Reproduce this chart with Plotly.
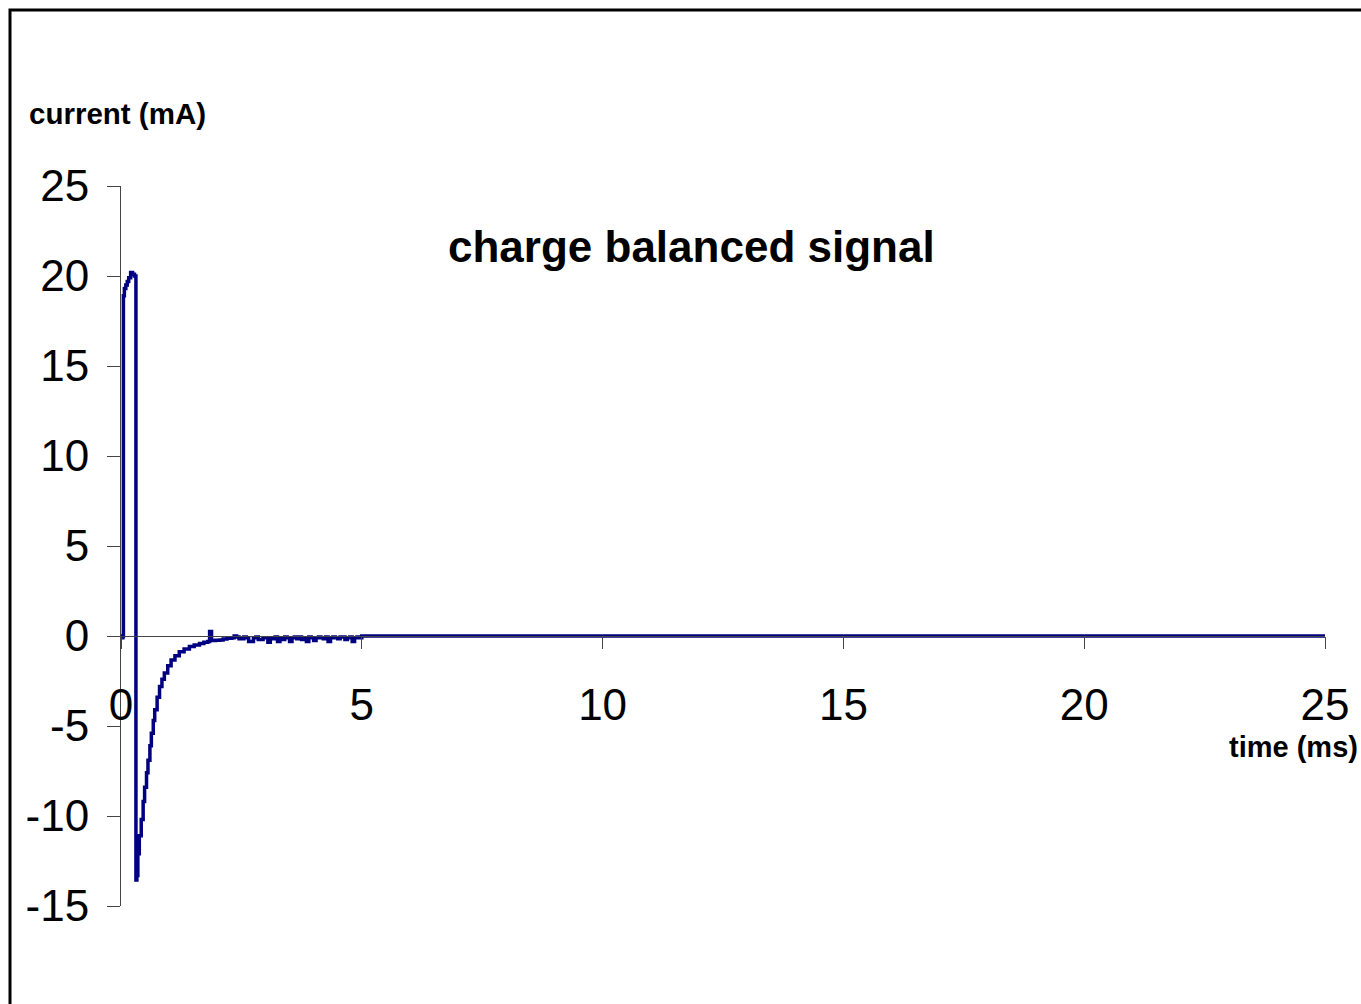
import plotly.graph_objects as go

# time (ms) and current (mA)
t_ms = [0.0, 0.03, 0.04, 0.05, 0.07, 0.10, 0.13, 0.16, 0.20, 0.24, 0.28, 0.30,
        0.31, 0.33, 0.35, 0.38, 0.42, 0.46, 0.49, 0.53, 0.56, 0.60, 0.63, 0.67, 0.70,
        0.75, 0.80, 0.85, 0.90, 0.97, 1.04, 1.12, 1.21, 1.31, 1.42, 1.52, 1.63,
        1.72, 1.80, 1.84, 1.88, 1.96, 2.05, 2.12, 2.20,
        2.3, 2.35, 2.4, 2.45, 2.5, 2.55, 2.6, 2.65, 2.7, 2.75, 2.8, 2.85, 2.9, 2.95,
        3.0, 3.05, 3.1, 3.15, 3.2, 3.25, 3.3, 3.35, 3.4, 3.45, 3.5, 3.55, 3.6, 3.65,
        3.7, 3.75, 3.8, 3.85, 3.9, 3.95, 4.0, 4.05, 4.1, 4.15, 4.2, 4.25, 4.3, 4.35,
        4.4, 4.45, 4.5, 4.55, 4.6, 4.65, 4.7, 4.75, 4.8, 4.85, 4.9, 4.95,
        5.0, 25.0]
current_mA = [0.0, -0.1, 0.0, 18.9, 19.3, 19.5, 19.7, 19.9, 20.2, 20.1, 20.0, 20.0,
              -13.55, -13.3, -12.1, -11.1, -10.2, -9.2, -8.4, -7.6, -6.9, -6.1, -5.4, -4.7, -4.1,
              -3.4, -2.8, -2.4, -2.06, -1.65, -1.33, -1.1, -0.87, -0.72, -0.59, -0.5, -0.41,
              -0.35, -0.3, 0.25, -0.25, -0.24, -0.22, -0.16, -0.13,
              -0.1, 0.0, -0.05, -0.15, -0.15, -0.05, -0.1, -0.3, -0.3, -0.1, -0.05, -0.2, -0.2, -0.1,
              -0.1, -0.35, -0.1, -0.15, -0.05, -0.3, -0.1, -0.2, -0.05, -0.1, -0.3, -0.1, -0.05, -0.15,
              -0.05, -0.2, -0.1, -0.3, -0.05, -0.1, -0.25, -0.1, -0.05, -0.1, -0.15, -0.05, -0.3, -0.1,
              -0.05, -0.1, -0.15, -0.05, -0.05, -0.2, -0.1, -0.05, -0.3, -0.1, -0.05, -0.1,
              0.0, 0.0]

x_ticks = [0, 5, 10, 15, 20, 25]
y_ticks = [-15, -10, -5, 0, 5, 10, 15, 20, 25]

title_text = "charge balanced signal"
y_title = "current (mA)"
x_title = "time (ms)"

FONT = "Liberation Sans, Arial, sans-serif"

fig = go.Figure()
fig.add_trace(go.Scatter(
    x=t_ms, y=current_mA, mode="lines",
    line=dict(color="#000080", width=3.5, shape="hv"),
    hoverinfo="skip", showlegend=False,
))

fig.update_layout(
    width=1361, height=1004,
    margin=dict(l=121, r=36, t=186, b=98),
    paper_bgcolor="white", plot_bgcolor="white",
    font=dict(family=FONT, color="black"),
    showlegend=False,
    xaxis=dict(
        range=[0, 25], tickvals=x_ticks, ticktext=[str(v) for v in x_ticks],
        showgrid=False, zeroline=False, showline=True, linecolor="#444444", linewidth=1,
        ticks="outside", ticklen=12, tickcolor="#444444", tickwidth=1,
        tickfont=dict(size=44, family=FONT, color="black"),
        anchor="free", position=0.375, ticklabelstandoff=18,
    ),
    yaxis=dict(
        range=[-15, 25], tickvals=y_ticks, ticktext=[str(v) for v in y_ticks],
        showgrid=False, zeroline=False, showline=True, linecolor="#444444", linewidth=1,
        ticks="outside", ticklen=13, tickcolor="#444444", tickwidth=1,
        tickfont=dict(size=44, family=FONT, color="black"),
        ticklabelstandoff=9,
    ),
    annotations=[
        dict(text=f"<b>{title_text}</b>", xref="paper", yref="paper",
             x=(691 - 121) / 1204, y=(906 - 246) / 720, xanchor="center", yanchor="middle",
             showarrow=False, font=dict(size=44, family=FONT, color="black")),
        dict(text=f"<b>{y_title}</b>", xref="paper", yref="paper",
             x=(27 - 121) / 1204, y=(906 - 114) / 720, xanchor="left", yanchor="middle",
             showarrow=False, font=dict(size=29.5, family=FONT, color="black")),
        dict(text=f"<b>{x_title}</b>", xref="paper", yref="paper",
             x=(1360 - 121) / 1204, y=(906 - 747) / 720, xanchor="right", yanchor="middle",
             showarrow=False, font=dict(size=29, family=FONT, color="black")),
    ],
    shapes=[
        dict(type="rect", xref="paper", yref="paper",
             x0=(10 - 121) / 1204, x1=1.2, y0=-0.3, y1=(906 - 10) / 720,
             line=dict(color="black", width=3), fillcolor="rgba(0,0,0,0)", layer="above"),
    ],
)

fig.write_html("out.html", config={"displayModeBar": False},
               post_script="document.body.style.margin='0';document.body.style.overflow='hidden';")
